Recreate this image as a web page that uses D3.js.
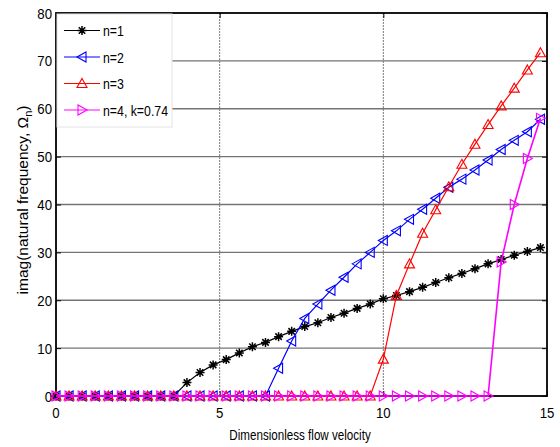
<!DOCTYPE html>
<html>
<head>
<meta charset="utf-8">
<script src="https://cdn.jsdelivr.net/npm/d3@7"></script>
<style>
  body { margin: 0; background: #fff; }
  text { font-family: "Liberation Sans", Arial, sans-serif; fill: #000; }
</style>
</head>
<body>
<svg id="chart" width="560" height="447"></svg>
<script>
// Dimensionless flow velocity samples
const velocity = [0, 0.4, 0.8, 1.2, 1.6, 2.0, 2.4, 2.8, 3.2, 3.6,
  4.0, 4.4, 4.8, 5.2, 5.6, 6.0, 6.4, 6.8, 7.2, 7.6,
  8.0, 8.4, 8.8, 9.2, 9.6, 10.0, 10.4, 10.8, 11.2, 11.6,
  12.0, 12.4, 12.8, 13.2, 13.6, 14.0, 14.4, 14.8];

// Imaginary part of the natural frequency for each mode
const mode1 = [0, 0, 0, 0, 0, 0, 0, 0, 0, 0,
  2.8, 4.9, 6.5, 7.6, 9.0, 10.3, 11.2, 12.4, 13.5, 14.5,
  15.3, 16.4, 17.3, 18.3, 19.2, 20.3, 21.0, 21.8, 22.7, 23.7,
  24.7, 25.6, 26.6, 27.6, 28.5, 29.4, 30.2, 31.0];
const mode2 = [0, 0, 0, 0, 0, 0, 0, 0, 0, 0,
  0, 0, 0, 0, 0, 0, 0, 5.8, 11.5, 16.2,
  19.2, 22.1, 24.8, 27.6, 30.0, 32.5, 34.5, 36.9, 39.0, 41.3,
  43.6, 45.3, 47.2, 49.3, 51.5, 53.4, 55.2, 57.8];
const mode3 = [0, 0, 0, 0, 0, 0, 0, 0, 0, 0,
  0, 0, 0, 0, 0, 0, 0, 0, 0, 0,
  0, 0, 0, 0, 0, 7.7, 21.0, 27.6, 34.0, 38.9,
  43.7, 48.4, 52.6, 56.7, 60.6, 64.3, 68.1, 71.7];
const mode4 = [0, 0, 0, 0, 0, 0, 0, 0, 0, 0,
  0, 0, 0, 0, 0, 0, 0, 0, 0, 0,
  0, 0, 0, 0, 0, 0, 0, 0, 0, 0,
  0, 0, 0, 0, 28.0, 40.0, 49.6, 58.0];

const seriesNames = ["n=1", "n=2", "n=3", "n=4, k=0.74"];
const xTicks = [0, 5, 10, 15];
const yTicks = [0, 10, 20, 30, 40, 50, 60, 70, 80];

const series = [
  { name: seriesNames[0], values: mode1, color: "#000000", marker: "star" },
  { name: seriesNames[1], values: mode2, color: "#0000ff", marker: "left" },
  { name: seriesNames[2], values: mode3, color: "#ff0000", marker: "up" },
  { name: seriesNames[3], values: mode4, color: "#ff00ff", marker: "right" }
];

const svg = d3.select("#chart");
const plotL = 56, plotR = 547, plotT = 13, plotB = 396;

const x = d3.scaleLinear().domain([0, 15]).range([plotL, plotR]);
const y = d3.scaleLinear().domain([0, 80]).range([plotB, plotT]);

// Condensed text: horizontal squeeze about the anchor point
function narrowText(parent, px, py, k, size) {
  return parent.append("text")
    .attr("transform", `translate(${px},${py}) scale(${k},1)`)
    .style("font-size", size + "px");
}

// Grid
const grid = svg.append("g");
grid.selectAll("line.h").data(yTicks.slice(1, -1)).join("line")
  .attr("x1", plotL).attr("x2", plotR)
  .attr("y1", d => y(d)).attr("y2", d => y(d))
  .attr("stroke", "#747474").attr("stroke-width", 1.3);
grid.selectAll("line.v").data(xTicks.slice(1, -1)).join("line")
  .attr("x1", d => x(d)).attr("x2", d => x(d))
  .attr("y1", plotT).attr("y2", plotB)
  .attr("stroke", "#7a7a7a").attr("stroke-width", 1).attr("stroke-dasharray", "2,1");

// Axes (ticks pointing inward on all four sides)
const axB = svg.append("g").attr("transform", `translate(0,${plotB})`)
  .call(d3.axisBottom(x).tickValues(xTicks).tickSize(-5).tickFormat(""));
const axT = svg.append("g").attr("transform", `translate(0,${plotT})`)
  .call(d3.axisTop(x).tickValues(xTicks).tickSize(-5).tickFormat(""));
const axL = svg.append("g").attr("transform", `translate(${plotL},0)`)
  .call(d3.axisLeft(y).tickValues(yTicks).tickSize(-5).tickFormat(""));
const axR = svg.append("g").attr("transform", `translate(${plotR},0)`)
  .call(d3.axisRight(y).tickValues(yTicks).tickSize(-5).tickFormat(""));
[axB, axT, axL, axR].forEach(a => {
  a.select(".domain").remove();
  a.selectAll(".tick line").attr("stroke", "#000").attr("stroke-width", 1);
});

// Tick labels
xTicks.forEach(v => {
  narrowText(svg, x(v), 418, 0.88, 15).attr("text-anchor", "middle").text(v);
});
yTicks.forEach(v => {
  narrowText(svg, 52, y(v) + 5.5, 0.88, 15).attr("text-anchor", "end").text(v);
});

// Plot frame
svg.append("rect").attr("x", plotL).attr("y", plotT)
  .attr("width", plotR - plotL).attr("height", plotB - plotT)
  .attr("fill", "none").attr("stroke", "#000").attr("stroke-width", 1.8);

// Marker shapes
function markerPath(type, s) {
  if (type === "star") {
    const d = s * 0.72;
    return `M${-s},0L${s},0M0,${-s}L0,${s}M${-d},${-d}L${d},${d}M${-d},${d}L${d},${-d}`;
  }
  if (type === "up") return `M0,${-s}L${s},${s * 0.8}L${-s},${s * 0.8}Z`;
  if (type === "left") return `M${-s},0L${s * 0.8},${-s}L${s * 0.8},${s}Z`;
  if (type === "right") return `M${s},0L${-s * 0.8},${-s}L${-s * 0.8},${s}Z`;
}

const line = d3.line().x(d => x(d[0])).y(d => y(d[1]));
const plot = svg.append("g");
series.forEach(s => {
  const pts = velocity.map((v, i) => [v, s.values[i]]);
  const g = plot.append("g");
  g.append("path").attr("d", line(pts))
    .attr("fill", "none").attr("stroke", s.color)
    .attr("stroke-width", s.marker === "right" ? 1.6 : 1.2);
  g.selectAll("path.m").data(pts).join("path")
    .attr("transform", d => `translate(${x(d[0])},${y(d[1])})`)
    .attr("d", markerPath(s.marker, s.marker === "star" ? 4.5 : 5))
    .attr("fill", "none").attr("stroke", s.color)
    .attr("stroke-width", s.marker === "star" ? 1.5 : 1.1);
});

// Legend
const lg = svg.append("g");
lg.append("rect").attr("x", 57).attr("y", 14).attr("width", 115).attr("height", 113)
  .attr("fill", "#fff").attr("stroke", "#e4e4e4").attr("stroke-width", 1);
series.forEach((s, i) => {
  const cy = 30.5 + i * 26.5;
  lg.append("line").attr("x1", 64).attr("x2", 100).attr("y1", cy).attr("y2", cy)
    .attr("stroke", s.color).attr("stroke-width", 1.2);
  lg.append("path").attr("transform", `translate(82,${cy})`)
    .attr("d", markerPath(s.marker, s.marker === "star" ? 4.5 : 5))
    .attr("fill", "none").attr("stroke", s.color)
    .attr("stroke-width", s.marker === "star" ? 1.5 : 1.1);
  narrowText(lg, 103, cy + 5.5, 0.85, 14.5).text(s.name);
});

// Axis titles
narrowText(svg, 300, 440, 0.83, 14).attr("text-anchor", "middle")
  .text("Dimensionless flow velocity");

const yl = svg.append("text")
  .attr("transform", "translate(28,200) rotate(-90)")
  .attr("text-anchor", "middle").style("font-size", "15.5px");
yl.append("tspan").text("imag(natural frequency, Ω");
yl.append("tspan").attr("dy", 4).style("font-size", "11px").text("n");
yl.append("tspan").attr("dy", -4).text(")");
</script>
</body>
</html>
